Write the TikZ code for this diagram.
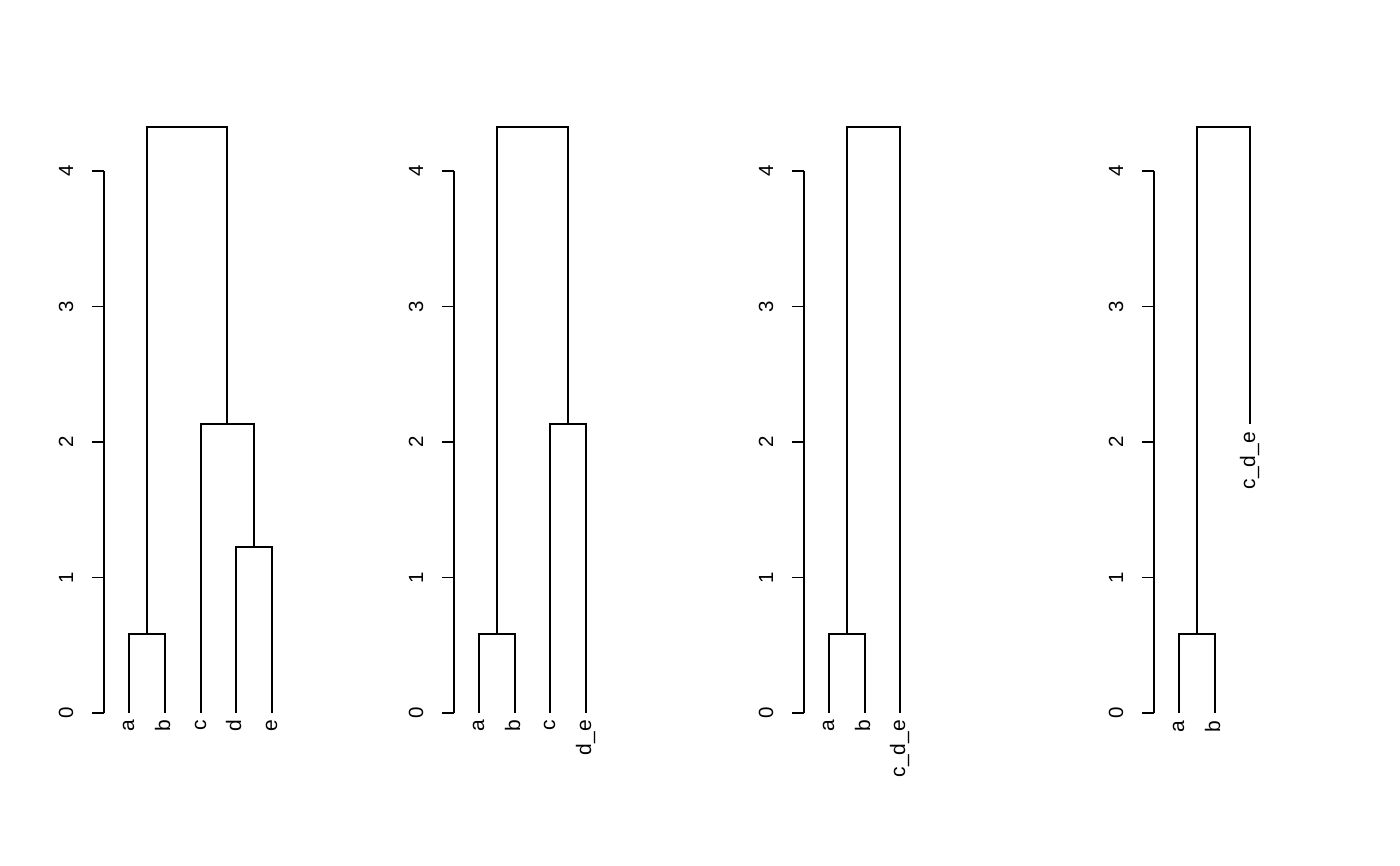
\documentclass[tikz,border=0pt]{standalone}
\usepackage{fontspec}
\setmainfont{Liberation Sans}
\usepackage{tikz}
\usetikzlibrary{positioning}

\tikzstyle{branch} = [line width=1.4pt]
\tikzstyle{axisline} = [line width=1.4pt]
\tikzstyle{ticklabel} = [
  rotate=90, anchor=base, inner sep=0pt,
  font=\fontsize{20.5}{24}\selectfont
]
\tikzstyle{leaflabel} = [
  xshift=2.5pt, rotate=90, anchor=mid east, inner sep=0pt,
  font=\fontsize{21}{24}\selectfont
]

\begin{document}
\begin{tikzpicture}[x=1pt, y=1pt]

\useasboundingbox (0,0) rectangle (1400,866);

% --- Height axes, one per panel ---
\foreach \px in {104,454,804,1154} {
  \begin{scope}[shift={(\px,153)}, y=135.5pt]
    \draw[axisline] (0,0) -- (0,4);
    \foreach \t in {0,...,4} {
      \draw[axisline] (0,\t) -- (-12,\t) coordinate (tick\t);
      \node[ticklabel] at ([xshift=-19pt]tick\t) {\t};
    }
  \end{scope}
}

% --- Panel 1: a b c d e ---
\begin{scope}[shift={(104,153)}, y=135.5pt]
  \coordinate (p1a) at (25,0);
  \coordinate (p1b) at (61,0);
  \coordinate (p1c) at (97,0);
  \coordinate (p1d) at (132,0);
  \coordinate (p1e) at (168,0);
  \coordinate (p1ab) at (43,0.583);
  \coordinate (p1de) at (150,1.225);
  \coordinate (p1cde) at (123,2.133);
  \coordinate (p1top) at (83,4.325);
  \draw[branch] (p1a) |- (p1ab) -| (p1b);
  \draw[branch] (p1d) |- (p1de) -| (p1e);
  \draw[branch] (p1c) |- (p1cde) -| (p1de);
  \draw[branch] (p1ab) |- (p1top) -| (p1cde);
  \node[leaflabel] at ([yshift=-7pt]p1a) {a};
  \node[leaflabel] at ([yshift=-7pt]p1b) {b};
  \node[leaflabel] at ([yshift=-7pt]p1c) {c};
  \node[leaflabel] at ([yshift=-7pt]p1d) {d};
  \node[leaflabel] at ([yshift=-7pt]p1e) {e};
\end{scope}

% --- Panel 2: a b c d_e ---
\begin{scope}[shift={(454,153)}, y=135.5pt]
  \coordinate (p2a) at (25,0);
  \coordinate (p2b) at (61,0);
  \coordinate (p2c) at (96,0);
  \coordinate (p2de) at (132,0);
  \coordinate (p2ab) at (43,0.583);
  \coordinate (p2cde) at (114,2.133);
  \coordinate (p2top) at (78.5,4.325);
  \draw[branch] (p2a) |- (p2ab) -| (p2b);
  \draw[branch] (p2c) |- (p2cde) -| (p2de);
  \draw[branch] (p2ab) |- (p2top) -| (p2cde);
  \node[leaflabel] at ([yshift=-7pt]p2a) {a};
  \node[leaflabel] at ([yshift=-7pt]p2b) {b};
  \node[leaflabel] at ([yshift=-7pt]p2c) {c};
  \node[leaflabel] at ([yshift=-7pt]p2de) {d\_e};
\end{scope}

% --- Panel 3: a b c_d_e ---
\begin{scope}[shift={(804,153)}, y=135.5pt]
  \coordinate (p3a) at (25,0);
  \coordinate (p3b) at (61,0);
  \coordinate (p3cde) at (96,0);
  \coordinate (p3ab) at (43,0.583);
  \coordinate (p3top) at (69.5,4.325);
  \draw[branch] (p3a) |- (p3ab) -| (p3b);
  \draw[branch] (p3ab) |- (p3top) -| (p3cde);
  \node[leaflabel] at ([yshift=-7pt]p3a) {a};
  \node[leaflabel] at ([yshift=-7pt]p3b) {b};
  \node[leaflabel] at ([yshift=-7pt]p3cde) {c\_d\_e};
\end{scope}

% --- Panel 4: a b, c_d_e cut at its merge height ---
\begin{scope}[shift={(1154,153)}, y=135.5pt]
  \coordinate (p4a) at (25,0);
  \coordinate (p4b) at (61,0);
  \coordinate (p4cde) at (96,2.133);
  \coordinate (p4ab) at (43,0.583);
  \coordinate (p4top) at (69.5,4.325);
  \draw[branch] (p4a) |- (p4ab) -| (p4b);
  \draw[branch] (p4ab) |- (p4top) -| (p4cde);
  \node[leaflabel] at ([yshift=-8pt]p4a) {a};
  \node[leaflabel] at ([yshift=-8pt]p4b) {b};
  \node[leaflabel] at ([yshift=-8pt]p4cde) {c\_d\_e};
\end{scope}

\end{tikzpicture}
\end{document}
